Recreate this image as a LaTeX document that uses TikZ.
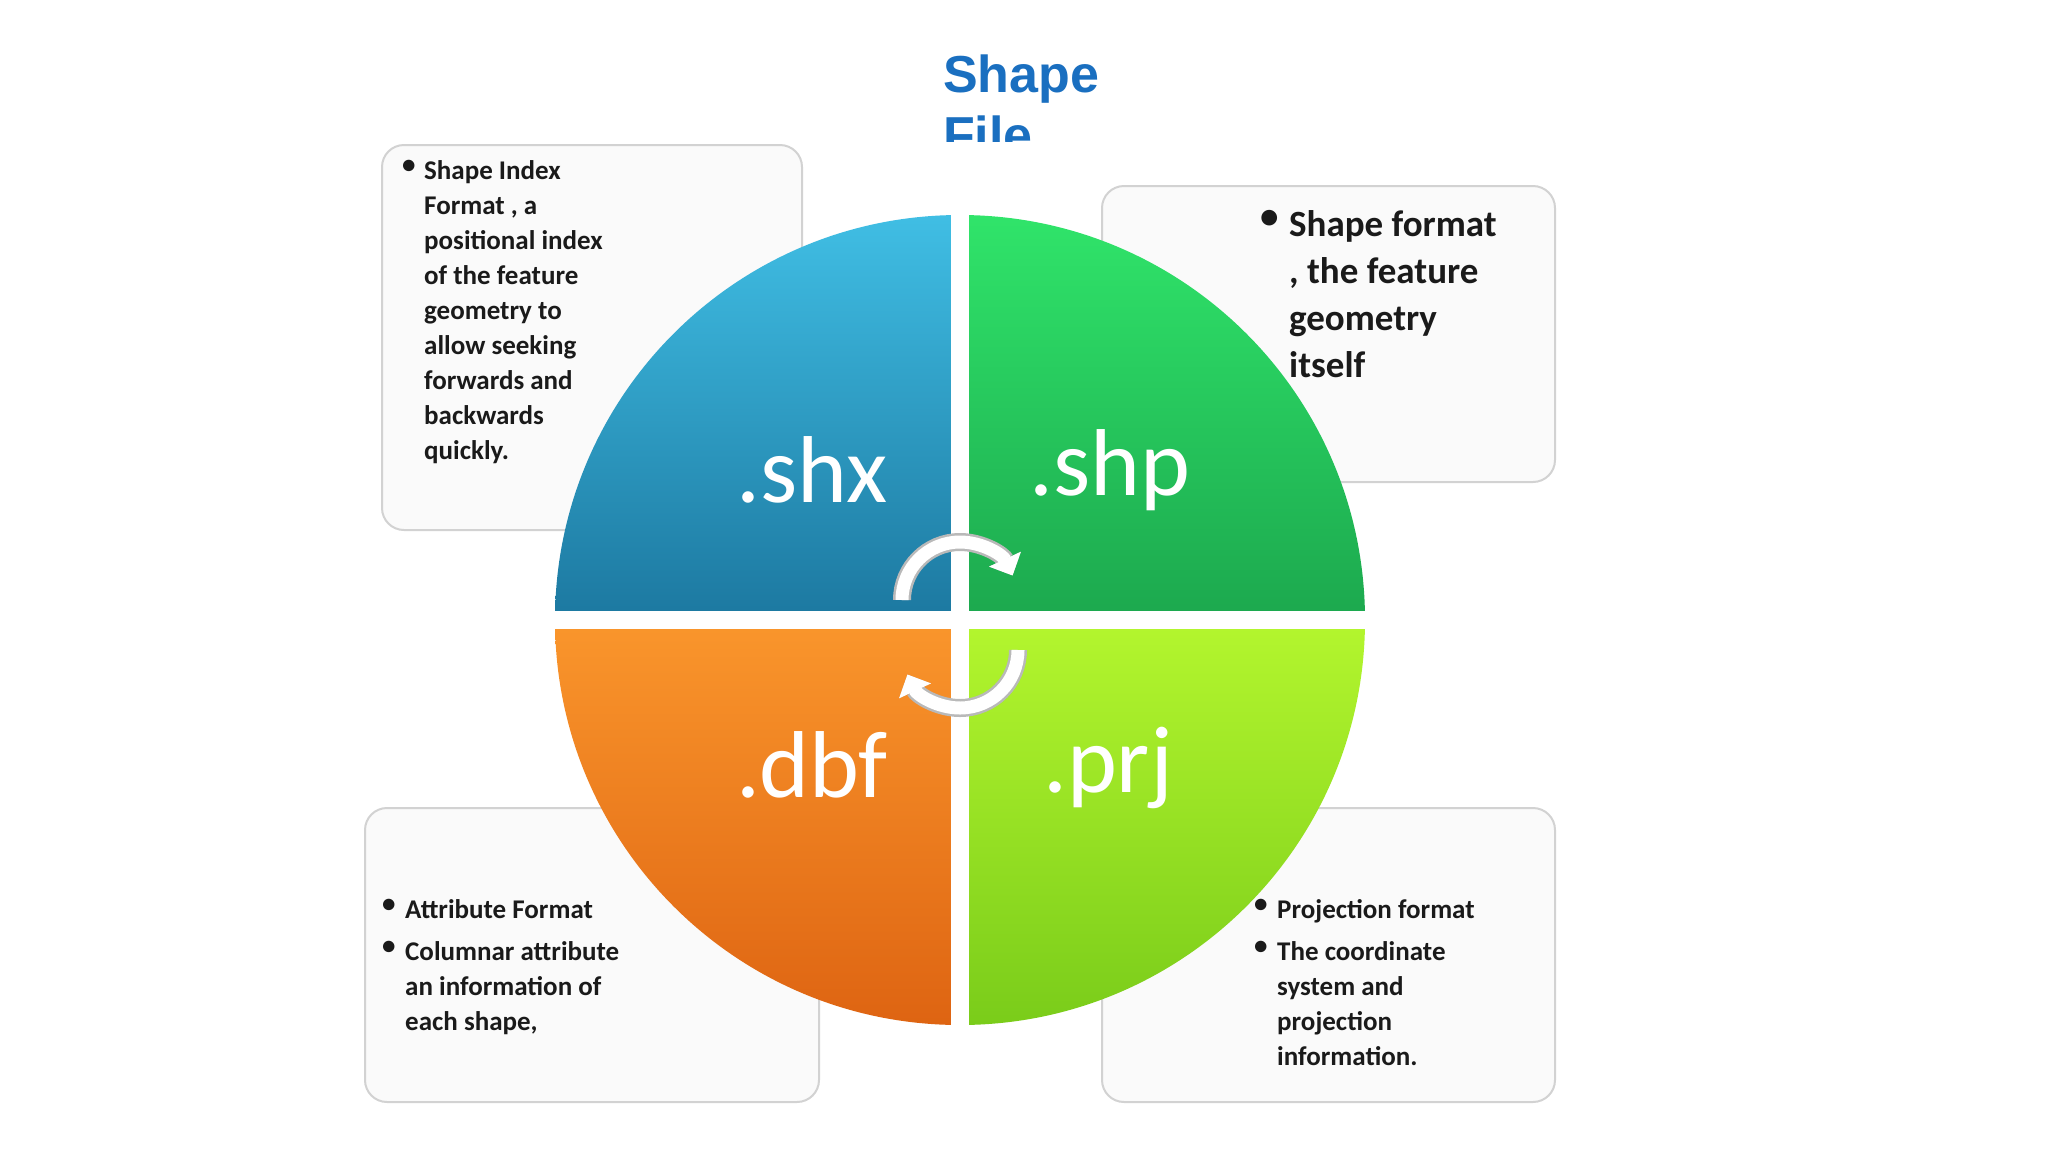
\documentclass[tikz,border=0pt]{standalone}
\usepackage{fontspec}
\setmainfont{Carlito}
\newfontfamily\titlefont{Liberation Sans}
\usetikzlibrary{arrows.meta}
\definecolor{ttl}{HTML}{1A6FC0}
\definecolor{txt}{HTML}{1A1A1A}
\tikzset{
  infobox/.style={draw=gray!35, line width=2pt, fill=gray!4, rounded corners=22pt},
  btext/.style={anchor=north west, inner sep=0pt, align=left, text=txt, font=\bfseries\fontsize{27}{35}\selectfont},
  bigtext/.style={anchor=north west, inner sep=0pt, align=left, text=txt, font=\bfseries\fontsize{37}{47}\selectfont},
  qlabel/.style={text=white, font=\fontsize{95}{100}\selectfont, inner sep=0pt},
  cyc/.style={line width=13pt, white, preaction={draw=gray!55, line width=18pt}, -{Triangle[length=18pt,width=34pt]}}
}
\begin{document}
\begin{tikzpicture}[x=1pt,y=-1pt]
\useasboundingbox (0,0) rectangle (2048,1152);
\fill[white] (0,0) rectangle (2048,1152);
% title
\begin{scope}
\clip (900,0) rectangle (1200,141);
\node[anchor=north west, inner sep=0pt, align=left, text=ttl, font=\titlefont\bfseries\fontsize{52}{61}\selectfont] (title) at (943,55) {Shape\\File};
\end{scope}
% boxes
\node[infobox, minimum width=420pt, minimum height=385pt, anchor=north west] (tl) at (381,144) {};
\node[infobox, minimum width=453pt, minimum height=296pt, anchor=north west] (tr) at (1101,185) {};
\node[infobox, minimum width=454pt, minimum height=294pt, anchor=north west] (bl) at (364,807) {};
\node[infobox, minimum width=453pt, minimum height=294pt, anchor=north west] (br) at (1101,807) {};
% texts
\node[btext] (tlb) at (402,160) {\textbullet};
\node[btext] (tlt) at (424,160) {Shape Index\\Format , a\\positional index\\of the feature\\geometry to\\allow seeking\\forwards and\\backwards\\quickly.};
\node[bigtext] (trb) at (1260,210) {\textbullet};
\node[bigtext] (trt) at (1289,210) {Shape format\\, the feature\\geometry\\itself};
\node[btext] (blb1) at (382,899) {\textbullet};
\node[btext] (blt1) at (405,899) {Attribute Format};
\node[btext] (blb2) at (382,941) {\textbullet};
\node[btext] (blt2) at (405,941) {Columnar attribute\\an information of\\each shape,};
\node[btext] (brb1) at (1254,899) {\textbullet};
\node[btext] (brt1) at (1277,899) {Projection format};
\node[btext] (brb2) at (1254,941) {\textbullet};
\node[btext] (brt2) at (1277,941) {The coordinate\\system and\\projection\\information.};
% circle quadrants
\coordinate (c) at (960,620);
\shade[top color={rgb,255:red,64;green,190;blue,228}, bottom color={rgb,255:red,28;green,120;blue,160}] (c) -- (555,620) arc[start angle=180,end angle=270,radius=405] -- cycle;
\shade[top color={rgb,255:red,48;green,228;blue,106}, bottom color={rgb,255:red,28;green,168;blue,78}] (c) -- (960,215) arc[start angle=270,end angle=360,radius=405] -- cycle;
\shade[top color={rgb,255:red,250;green,150;blue,44}, bottom color={rgb,255:red,222;green,100;blue,18}] (c) -- (555,620) arc[start angle=180,end angle=90,radius=405] -- cycle;
\shade[top color={rgb,255:red,180;green,246;blue,46}, bottom color={rgb,255:red,122;green,204;blue,26}] (c) -- (1365,620) arc[start angle=0,end angle=90,radius=405] -- cycle;
\draw[white, line width=18pt] (960,200) -- (960,1040);
\draw[white, line width=18pt] (540,620) -- (1380,620);
% labels
\node[qlabel] (shx) at (812,470) {.shx};
\node[qlabel] (shp) at (1110,470) {.shp};
\node[qlabel] (dbf) at (812,765) {.dbf};
\node[qlabel] (prj) at (1108,768) {.prj};
% cycle arrows
\draw[cyc] (902,600) arc[start angle=180,end angle=335,radius=58];
\draw[cyc] (1018,650) arc[start angle=0,end angle=155,radius=58];
\end{tikzpicture}
\end{document}
